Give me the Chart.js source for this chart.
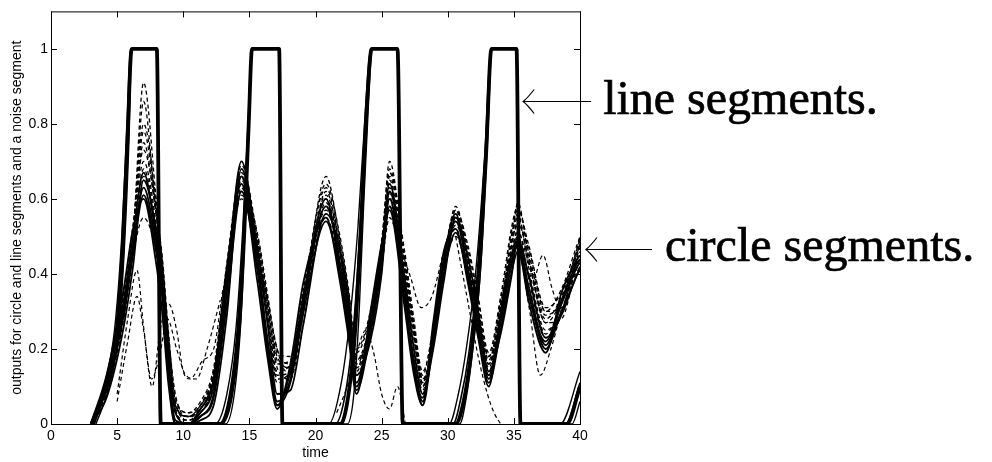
<!DOCTYPE html>
<html>
<head>
<meta charset="utf-8">
<script src="https://cdn.jsdelivr.net/npm/chart.js@4.4.0/dist/chart.umd.min.js"></script>
<style>
  html, body { margin: 0; padding: 0; background: #fff; }
  #wrap { width: 992px; height: 462px; }
</style>
</head>
<body>
<div id="wrap"><canvas id="outputs"></canvas></div>
<script>
// axis ticks
var time_ticks = [0, 5, 10, 15, 20, 25, 30, 35, 40];
var output_ticks = [0, 0.2, 0.4, 0.6, 0.8, 1];

// line segment outputs (saturating pulses), each member has its own times
var line_main_t = [3.2, 4.2, 5.0, 5.45, 5.8, 6.1, 8.0, 8.3, 12.8, 13.6, 14.2, 14.6, 14.95, 15.2, 17.25, 17.5,
  21.9, 22.5, 23.0, 23.4, 23.9, 24.25, 26.2, 26.6, 30.6, 31.2, 31.7, 32.3, 32.9, 33.3, 35.2, 35.5, 39.0, 40];
var line_main = [0, 0.11, 0.25, 0.49, 0.78, 1, 1, 0, 0, 0.07, 0.25, 0.5, 0.8, 1, 1, 0,
  0, 0.08, 0.25, 0.5, 0.86, 1, 1, 0, 0, 0.06, 0.17, 0.37, 0.72, 1, 1, 0, 0, 0.1];
var line_early_t = [3.0, 4.0, 4.8, 5.35, 5.75, 6.0, 8.0, 8.3, 12.4, 13.3, 14.0, 14.5, 14.9, 15.15, 17.25, 17.5,
  21.0, 21.9, 22.6, 23.2, 23.8, 24.15, 26.2, 26.6, 30.1, 30.8, 31.4, 32.1, 32.8, 33.25, 35.2, 35.5, 38.5, 40];
var line_early = [0, 0.1, 0.25, 0.5, 0.8, 1, 1, 0, 0, 0.08, 0.26, 0.52, 0.8, 1, 1, 0,
  0, 0.1, 0.28, 0.52, 0.85, 1, 1, 0, 0, 0.08, 0.2, 0.4, 0.72, 1, 1, 0, 0, 0.14];
var line_late_t = [3.4, 4.4, 5.1, 5.55, 5.9, 6.1, 8.0, 8.3, 13.2, 13.9, 14.4, 14.7, 15.0, 15.2, 17.25, 17.5,
  22.4, 22.9, 23.3, 23.6, 24.0, 24.3, 26.2, 26.6, 30.9, 31.4, 31.9, 32.5, 33.0, 33.35, 35.2, 35.5, 39.4, 40];
var line_late = [0, 0.1, 0.24, 0.47, 0.76, 1, 1, 0, 0, 0.09, 0.3, 0.55, 0.82, 1, 1, 0,
  0, 0.08, 0.3, 0.55, 0.85, 1, 1, 0, 0, 0.07, 0.2, 0.42, 0.75, 1, 1, 0, 0, 0.06];
var line_mid_t = [3.1, 4.1, 4.9, 5.4, 5.78, 6.05, 8.0, 8.3, 12.7, 13.5, 14.1, 14.55, 14.92, 15.18, 17.25, 17.5,
  21.5, 22.3, 22.9, 23.35, 23.85, 24.2, 26.2, 26.6, 30.4, 31.0, 31.6, 32.2, 32.85, 33.3, 35.2, 35.5, 38.9, 40];
var line_mid = [0, 0.1, 0.25, 0.49, 0.79, 1, 1, 0, 0, 0.08, 0.26, 0.51, 0.8, 1, 1, 0,
  0, 0.09, 0.27, 0.51, 0.85, 1, 1, 0, 0, 0.07, 0.19, 0.39, 0.73, 1, 1, 0, 0, 0.11];

// circle segment outputs, shared time grid
var circle_t = [3.0, 4.2, 5.5, 6.2, 7.0, 7.9, 8.4, 8.9, 9.4, 10.4, 11.3, 12.3, 13.3, 14.4, 15.6, 16.4, 17.1, 18.1,
  19.1, 20.8, 21.8, 22.5, 23.1, 24.2, 25.0, 25.6, 26.7, 27.4, 28.1, 28.9, 29.7, 30.6, 31.5, 32.3, 33.1, 34.0,
  34.8, 35.3, 36.1, 37.4, 38.6, 39.8, 40.0];
var solid_a = [0, .10, .31, .47, .63, .49, .36, .16, 0, 0, .02, .08, .35, .66, .43, .22, .06, .12, .32, .58, .44, .28,
  .10, .27, .44, .60, .36, .18, .06, .23, .42, .54, .42, .27, .12, .27, .42, .48, .37, .21, .32, .42, .43];
var solid_b = [0, .13, .36, .52, .60, .44, .30, .10, 0, 0, .04, .12, .42, .64, .38, .17, .04, .16, .38, .55, .39, .23,
  .08, .31, .48, .57, .32, .14, .05, .27, .46, .52, .38, .23, .10, .30, .45, .47, .33, .19, .35, .44, .45];
var solid_c = [0, .07, .26, .42, .65, .53, .40, .21, .03, 0, .01, .05, .29, .68, .47, .26, .08, .09, .27, .56, .47, .31,
  .13, .23, .40, .62, .40, .21, .08, .20, .38, .55, .45, .30, .14, .24, .39, .49, .40, .23, .29, .40, .41];
var solid_d = [0, .11, .33, .50, .67, .51, .38, .14, .01, 0, .03, .10, .38, .70, .45, .20, .05, .14, .34, .60, .42, .26,
  .11, .29, .46, .64, .38, .16, .07, .25, .44, .56, .40, .25, .13, .28, .43, .50, .35, .22, .33, .43, .44];
var solid_e = [0, .09, .29, .45, .61, .47, .34, .12, 0, 0, .02, .07, .32, .62, .41, .19, .05, .11, .30, .54, .41, .25,
  .09, .25, .42, .58, .34, .16, .05, .22, .40, .51, .39, .24, .11, .25, .40, .46, .35, .20, .30, .40, .42];
var dashed_a = [0, .08, .30, .50, .91, .62, .42, .20, .05, .02, .03, .12, .40, .69, .50, .32, .15, .12, .30, .62, .48, .33,
  .15, .25, .46, .70, .44, .26, .10, .22, .42, .58, .46, .30, .16, .30, .50, .56, .42, .25, .30, .44, .46];
var dashed_b = [0, .09, .29, .48, .86, .58, .45, .24, .06, .01, .04, .10, .36, .65, .48, .30, .18, .15, .33, .66, .50, .35,
  .18, .24, .45, .66, .45, .28, .12, .20, .40, .56, .47, .33, .18, .28, .47, .59, .45, .27, .28, .45, .49];
var dashed_c = [0, .10, .32, .52, .80, .60, .40, .18, .04, 0, .05, .14, .40, .62, .50, .33, .20, .16, .35, .60, .47, .32,
  .16, .27, .43, .63, .41, .24, .11, .24, .43, .54, .45, .31, .17, .32, .48, .53, .47, .30, .31, .45, .47];
var dashed_d = [0, .09, .31, .49, .75, .57, .43, .22, .07, .03, .06, .15, .42, .60, .46, .29, .13, .14, .31, .59, .45, .30,
  .19, .30, .47, .60, .43, .27, .13, .26, .44, .55, .43, .29, .15, .30, .46, .51, .43, .28, .34, .46, .48];
var dashed_e = [0, .11, .34, .51, .70, .55, .41, .19, .04, .02, .04, .12, .39, .66, .44, .27, .11, .13, .33, .57, .46, .31,
  .14, .28, .44, .58, .40, .22, .09, .24, .43, .52, .41, .28, .14, .29, .45, .50, .40, .24, .32, .44, .45];
var dashed_f = [0, .10, .33, .50, .66, .52, .39, .17, .03, .01, .03, .11, .37, .63, .45, .28, .12, .14, .32, .55, .43, .29,
  .13, .26, .42, .55, .38, .20, .08, .22, .41, .50, .40, .26, .13, .27, .44, .52, .39, .23, .30, .42, .44];
var dashed_g = [0, .08, .28, .45, .55, .47, .36, .18, .05, .02, .05, .13, .41, .61, .47, .31, .16, .17, .36, .63, .49, .34,
  .17, .25, .43, .65, .42, .25, .12, .21, .39, .57, .44, .29, .16, .31, .49, .55, .44, .29, .33, .47, .49];
var dashed_h = [0, .12, .35, .53, .73, .58, .44, .21, .06, .03, .05, .14, .43, .67, .49, .31, .17, .15, .34, .61, .48, .33,
  .15, .29, .48, .68, .46, .27, .10, .23, .41, .53, .44, .30, .18, .33, .52, .58, .46, .30, .36, .48, .50];
var dashed_i = [0, .10, .31, .49, .78, .59, .44, .23, .08, .02, .04, .13, .40, .64, .51, .34, .19, .18, .36, .64, .51, .36,
  .20, .31, .49, .67, .47, .29, .14, .25, .44, .57, .48, .34, .19, .34, .51, .57, .48, .31, .35, .47, .50];
var dashed_j = [0, .09, .30, .47, .68, .54, .42, .20, .05, .02, .05, .12, .38, .62, .47, .29, .14, .16, .34, .58, .47, .32,
  .17, .28, .45, .62, .42, .25, .11, .23, .42, .54, .44, .29, .16, .31, .47, .54, .44, .27, .33, .46, .47];

// stray dashed traces (noise segment and outliers)
var stray_a_t = [5.0, 5.8, 6.5, 7.0, 7.65, 8.25, 8.9, 9.5, 10.0, 10.5, 11.5, 12.3, 13.0];
var stray_a = [0.08, 0.28, 0.41, 0.26, 0.10, 0.25, 0.32, 0.25, 0.14, 0.12, 0.17, 0.2, 0.36];
var stray_b_t = [5.0, 5.8, 6.5, 7.0, 7.6, 8.2, 8.8, 9.5, 10.2, 11.0, 11.8, 12.8];
var stray_b = [0.06, 0.22, 0.34, 0.25, 0.12, 0.18, 0.28, 0.2, 0.13, 0.12, 0.2, 0.33];
var stray_c_t = [14.5, 15.6, 16.4, 17.1, 17.8, 18.6, 19.4];
var stray_c = [0.66, 0.45, 0.33, 0.2, 0.14, 0.18, 0.33];
var stray_d_t = [21.6, 22.4, 23.2, 23.8, 24.4, 25.0, 25.6, 26.2, 26.8];
var stray_d = [0.03, 0.1, 0.2, 0.25, 0.19, 0.08, 0.04, 0.1, 0.0];
var stray_e_t = [25.6, 26.4, 27.2, 28.0, 28.8, 29.7, 30.6];
var stray_e = [0.62, 0.48, 0.39, 0.31, 0.34, 0.46, 0.56];
var stray_f_t = [30.6, 31.5, 32.3, 33.0, 33.5, 34.0];
var stray_f = [0.5, 0.33, 0.18, 0.08, 0.03, 0.0];
var stray_g_t = [35.3, 36.2, 37.0, 37.8, 38.6, 39.4, 40];
var stray_g = [0.5, 0.3, 0.13, 0.2, 0.3, 0.38, 0.42];
var stray_h_t = [35.6, 36.4, 37.2, 37.9, 38.6, 39.3, 40];
var stray_h = [0.44, 0.38, 0.45, 0.36, 0.3, 0.4, 0.48];

function pairs(xs, ys)
{
  var out = [];
  for (var i = 0; i < xs.length; i++) out.push({x: xs[i], y: ys[i]});
  return out;
}
function make_set(xs, ys, width, dash)
{
  return {
    data: pairs(xs, ys),
    borderColor: '#000',
    borderWidth: width,
    borderDash: dash,
    pointRadius: 0,
    fill: false,
    cubicInterpolationMode: 'monotone'
  };
}

var datasets = [
  make_set(line_main_t, line_main, 3.8, []),
  make_set(line_early_t, line_early, 1.4, []),
  make_set(line_mid_t, line_mid, 1.6, []),
  make_set(line_late_t, line_late, 1.4, [])
];
var solids = [solid_a, solid_b, solid_c, solid_d, solid_e];
for (var k = 0; k < solids.length; k++) datasets.push(make_set(circle_t, solids[k], 1.8, []));
var dashed = [dashed_a, dashed_b, dashed_c, dashed_d, dashed_e, dashed_f, dashed_g, dashed_h, dashed_i, dashed_j];
for (var d = 0; d < dashed.length; d++) datasets.push(make_set(circle_t, dashed[d], 1.3, [4, 3]));
var strays = [[stray_a_t, stray_a], [stray_b_t, stray_b], [stray_c_t, stray_c], [stray_d_t, stray_d],
  [stray_e_t, stray_e], [stray_f_t, stray_f], [stray_g_t, stray_g], [stray_h_t, stray_h]];
for (var s = 0; s < strays.length; s++) datasets.push(make_set(strays[s][0], strays[s][1], 1.2, [4, 3]));

// box round the plot with matlab style inward ticks
var frame_plugin = {
  id: 'frame',
  afterDatasetsDraw: function (chart) {
    var ctx = chart.ctx, a = chart.chartArea, xs = chart.scales.x, ys = chart.scales.y;
    ctx.save();
    ctx.strokeStyle = '#000';
    ctx.lineWidth = 1;
    ctx.strokeRect(a.left + 0.5, a.top + 0.5, a.right - a.left, a.bottom - a.top);
    ctx.beginPath();
    time_ticks.forEach(function (t) {
      var px = Math.round(xs.getPixelForValue(t)) + 0.5;
      ctx.moveTo(px, a.bottom); ctx.lineTo(px, a.bottom - 6);
      ctx.moveTo(px, a.top); ctx.lineTo(px, a.top + 6);
    });
    output_ticks.forEach(function (v) {
      var py = Math.round(ys.getPixelForValue(v)) + 0.5;
      ctx.moveTo(a.left, py); ctx.lineTo(a.left + 6, py);
      ctx.moveTo(a.right, py); ctx.lineTo(a.right - 6, py);
    });
    ctx.stroke();
    ctx.restore();
  }
};

// arrows and the two big labels on the right
function draw_arrow(ctx, tipX, tipY, tailX)
{
  ctx.beginPath();
  ctx.moveTo(tailX, tipY);
  ctx.lineTo(tipX, tipY);
  ctx.moveTo(tipX + 11, tipY - 12);
  ctx.quadraticCurveTo(tipX + 4, tipY - 3, tipX, tipY);
  ctx.quadraticCurveTo(tipX + 4, tipY + 3, tipX + 11, tipY + 12);
  ctx.stroke();
}
var label_plugin = {
  id: 'labels',
  afterDraw: function (chart) {
    var ctx = chart.ctx, xs = chart.scales.x, ys = chart.scales.y;
    ctx.save();
    ctx.strokeStyle = '#000';
    ctx.lineWidth = 1.2;
    ctx.fillStyle = '#000';
    var lx = xs.getPixelForValue(35.7), ly = Math.round(ys.getPixelForValue(0.86)) + 0.5;
    draw_arrow(ctx, lx, ly, lx + 68);
    var cx = xs.getPixelForValue(40.45), cy = Math.round(ys.getPixelForValue(0.467)) + 0.5;
    draw_arrow(ctx, cx, cy, cx + 66);
    ctx.font = '48px "Liberation Serif", serif';
    ctx.textBaseline = 'alphabetic';
    ctx.lineWidth = 0.7;
    ctx.fillText('line segments.', lx + 80, ly + 12);
    ctx.strokeText('line segments.', lx + 80, ly + 12);
    ctx.fillText('circle segments.', cx + 79, cy + 11);
    ctx.strokeText('circle segments.', cx + 79, cy + 11);
    ctx.restore();
  }
};

var axis_font = { family: '"Liberation Sans", Arial, sans-serif', size: 14 };

new Chart(document.getElementById('outputs'), {
  type: 'line',
  data: { datasets: datasets },
  options: {
    responsive: true,
    maintainAspectRatio: false,
    animation: false,
    devicePixelRatio: 1,
    layout: { padding: { left: 0, top: 7, right: 412, bottom: 0 } },
    plugins: { legend: { display: false }, tooltip: { enabled: false } },
    scales: {
      x: {
        type: 'linear',
        min: 0, max: 40,
        grid: { display: false, drawTicks: false },
        border: { display: false },
        afterFit: function (scale) { scale.height = 38; },
        afterBuildTicks: function (scale) { scale.ticks = time_ticks.map(function (v) { return {value: v}; }); },
        ticks: { color: '#000', font: axis_font, padding: 4, maxRotation: 0, autoSkip: false,
          callback: function (v) { return String(v); } },
        title: { display: true, text: 'time', color: '#000', font: axis_font, padding: { top: 8, bottom: 0 } }
      },
      y: {
        min: 0, max: 1.1,
        grid: { display: false, drawTicks: false },
        border: { display: false },
        afterFit: function (scale) { scale.width = 51; },
        afterBuildTicks: function (scale) { scale.ticks = output_ticks.map(function (v) { return {value: v}; }); },
        ticks: { color: '#000', font: axis_font, padding: 3, callback: function (v) { return String(v); } },
        title: { display: true, text: 'outputs for circle and line segments and a noise segment', color: '#000',
          font: axis_font, padding: { top: 9, bottom: 0 } }
      }
    }
  },
  plugins: [frame_plugin, label_plugin]
});
</script>
</body>
</html>
